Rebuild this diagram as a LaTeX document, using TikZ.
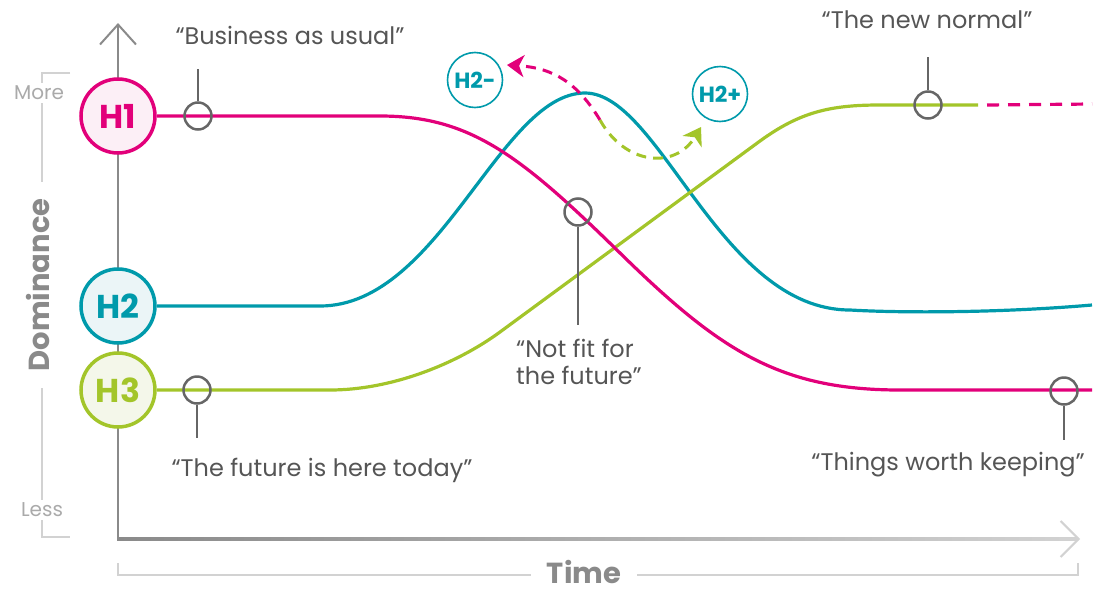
\documentclass[tikz,border=0pt]{standalone}
\usepackage{fontspec}
\setmainfont{Poppins}
\usetikzlibrary{arrows.meta}
\definecolor{hpink}{HTML}{E2007A}
\definecolor{hteal}{HTML}{009AAB}
\definecolor{hlime}{HTML}{A3C52A}
\definecolor{hpinkbg}{HTML}{FCEFF6}
\definecolor{htealbg}{HTML}{EBF5F7}
\definecolor{hlimebg}{HTML}{F4F7EA}
\definecolor{mgray}{HTML}{666666}
\definecolor{axgray}{HTML}{8A8A8A}
\definecolor{lgray}{HTML}{AAAAAA}
\definecolor{brgray}{HTML}{D2D2D2}
\definecolor{txtgray}{HTML}{555555}
\begin{document}
\begin{tikzpicture}[x=1pt,y=-1pt,
  hnode/.style={circle, minimum size=74pt, inner sep=0pt, line width=3.5pt, font=\bfseries\fontsize{33}{33}\selectfont},
  hsmall/.style={circle, draw=hteal, line width=1.6pt, fill=white, minimum size=55pt, inner sep=0pt, text=hteal, font=\bfseries\fontsize{22}{22}\selectfont},
  curve/.style={line width=3.2pt},
  marker/.style={circle, draw=mgray, line width=2.5pt, minimum size=27pt, inner sep=0pt},
  stem/.style={draw=mgray, line width=2.5pt},
  quote/.style={text=txtgray, font=\fontsize{24}{27}\selectfont, inner sep=0pt},
  axislabel/.style={text=axgray, font=\bfseries\fontsize{29}{29}\selectfont, fill=white, inner xsep=16pt, inner ysep=0pt, text height=21pt, text depth=0pt},
  scalelabel/.style={text=lgray, font=\fontsize{20}{20}\selectfont, fill=white, inner sep=3pt},
  bracket/.style={draw=brgray, line width=1.5pt},
  dashedarrow/.style={line width=3pt, dash pattern=on 10pt off 7pt},
]
\useasboundingbox (0,0) rectangle (1097,592);

% brackets and axis labels
\draw[bracket] (70,73) -- (42,73) -- (42,537) -- (70,537);
\draw[bracket] (118,563) -- (118,575) -- (1078,575) -- (1078,563);
\node[scalelabel] (more) at (39,93) {More};
\node[scalelabel] (less) at (42,510) {Less};
\node[axislabel, rotate=90] (dom) at (39,285) {Dominance};
\node[axislabel] (time) at (584,573) {Time};

% axes
\coordinate (origin) at (118,539);
\coordinate (ytip) at (118,23);
\coordinate (xtip) at (1080,539);
\coordinate (xpre) at (1060,539);
\draw[axgray, line width=2.2pt, -{Straight Barb[length=20pt, width=36pt, line width=2pt]}] (origin) -- (ytip);
\shade[left color=axgray, right color=brgray] (117,537.8) rectangle (1078,540.2);
\draw[brgray, line width=2pt, -{Straight Barb[length=18pt, width=36pt, line width=2pt]}] (xpre) -- (xtip);

% horizon nodes
\node[hnode, draw=hpink, fill=hpinkbg, text=hpink] (h1) at (118,116) {H1};
\node[hnode, draw=hteal, fill=htealbg, text=hteal] (h2) at (118,306) {H2};
\node[hnode, draw=hlime, fill=hlimebg, text=hlime] (h3) at (118,390) {H3};

% curves
\draw[curve, hteal] (h2.east) -- (320,306) .. controls (440,306) and (500,93) .. (585,93)
  .. controls (660,93) and (720,310) .. (850,310) .. controls (900,313) and (1000,313) .. (1092,305);
\draw[curve, hlime] (h3.east) -- (330,390) .. controls (390,390) and (455,365) .. (500,332)
  -- (760,141) .. controls (800,112) and (830,105) .. (880,105) -- (978,105);
\draw[curve, hpink] (h1.east) -- (380,116) .. controls (470,116) and (520,155) .. (620,253)
  .. controls (720,351) and (780,390) .. (900,390) -- (1092,390);
\coordinate (pend1) at (987,105);
\coordinate (pend2) at (1092,104);
\draw[curve, hpink, dash pattern=on 12pt off 9pt] (pend1) -- (pend2);

% H2- / H2+
\node[hsmall] (h2m) at (475,80) {H2-};
\node[hsmall] (h2p) at (720,94) {H2+};
\coordinate (split) at (600,120);
\coordinate (pinktip) at (507,65);
\coordinate (limetip) at (701,127);
\draw[dashedarrow, hpink, -{Stealth[length=17pt, width=22pt, inset=5pt]}] (split) .. controls (578,84) and (555,68) .. (pinktip);
\draw[dashedarrow, hlime, -{Stealth[length=17pt, width=22pt, inset=5pt]}] (split) .. controls (625,165) and (675,170) .. (limetip);

% markers and quotes
\node[marker] (m1) at (198,116) {};
\coordinate (s1) at (198,69);
\draw[stem] (m1.north) -- (s1);
\node[quote] (q1) at (290,35) {“Business as usual”};

\node[marker] (m2) at (578,212) {};
\coordinate (s2) at (578,325);
\draw[stem] (m2.south) -- (s2);
\node[quote, align=left] (q2) at (579,362) {“Not fit for\\the future”};

\node[marker] (m3) at (197,390) {};
\coordinate (s3) at (197,438);
\draw[stem] (m3.south) -- (s3);
\node[quote] (q3) at (322,470) {“The future is here today”};

\node[marker] (m4) at (928,105) {};
\coordinate (s4) at (928,57);
\draw[stem] (m4.north) -- (s4);
\node[quote] (q4) at (927,20) {“The new normal”};

\node[marker] (m5) at (1064,391) {};
\coordinate (s5) at (1064,440);
\draw[stem] (m5.south) -- (s5);
\node[quote, anchor=east] (q5) at (1085,465) {“Things worth keeping”};
\end{tikzpicture}
\end{document}
